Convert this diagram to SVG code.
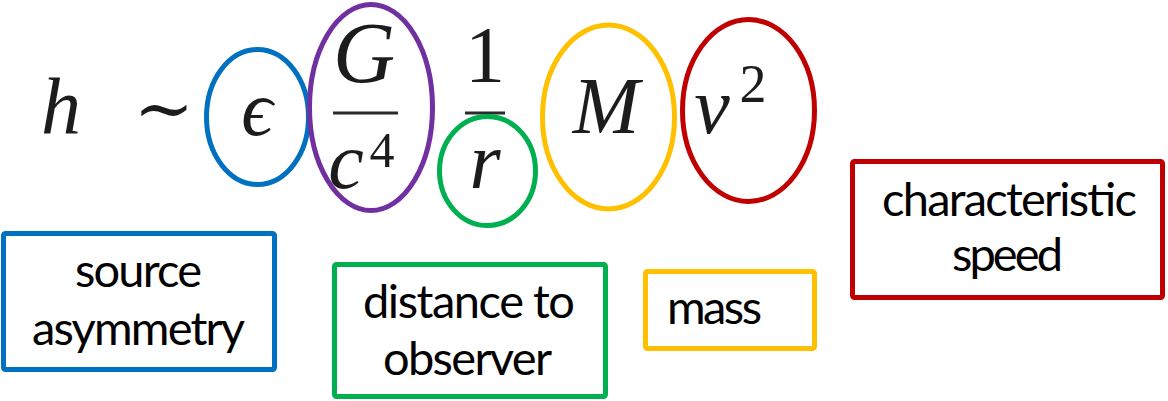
<svg xmlns="http://www.w3.org/2000/svg" width="1168" height="401" viewBox="0 0 1168 401">
<style>
.m{font-family:"Liberation Serif","DejaVu Serif",serif;font-style:italic;fill:#1c1c1c}
.n{font-family:"Liberation Serif","DejaVu Serif",serif;fill:#1c1c1c}
.ring{fill:none;stroke-width:5}
.box{fill:#fff;stroke-width:5}
.lbl{font-family:Lato,"Open Sans",sans-serif;font-size:47px;fill:#000;text-anchor:middle}
.bar{stroke:#2a2a2a;stroke-width:3}
</style>
<rect width="1168" height="401" fill="#fff"/>
<g id="equation">
<text class="m" x="41" y="133" font-size="80">h</text>
<text class="n" x="164" y="133" font-size="72" text-anchor="middle" font-family="DejaVu Serif">∼</text>
</g>
<g id="term-epsilon">
<ellipse class="ring" cx="257.5" cy="117" rx="51" ry="67.5" stroke="#0070C0"/>
<text class="m" x="257" y="135" font-size="78" text-anchor="middle">ϵ</text>
</g>
<g id="term-G-c4">
<ellipse class="ring" cx="371" cy="107.5" rx="61.5" ry="103" stroke="#7030A0"/>
<text class="m" x="364" y="82" font-size="86" text-anchor="middle">G</text>
<line class="bar" x1="333" y1="113" x2="398" y2="113"/>
<text class="m" x="346" y="188" font-size="80" text-anchor="middle">c</text>
<text class="n" x="382" y="167" font-size="50" text-anchor="middle">4</text>
</g>
<g id="term-one-over-r">
<text class="n" x="485" y="82" font-size="80" text-anchor="middle">1</text>
<line class="bar" x1="465" y1="113" x2="505" y2="113"/>
<ellipse class="ring" cx="487.5" cy="171" rx="48" ry="54.5" stroke="#00B050"/>
<text class="m" x="485" y="188" font-size="80" text-anchor="middle">r</text>
</g>
<g id="term-M">
<ellipse class="ring" cx="608.5" cy="117" rx="66" ry="92" stroke="#FFC000"/>
<text class="m" x="606" y="133" font-size="80" text-anchor="middle">M</text>
</g>
<g id="term-v2">
<ellipse class="ring" cx="748.5" cy="110.5" rx="66" ry="91" stroke="#C00000"/>
<text class="m" x="712" y="133" font-size="80" text-anchor="middle">v</text>
<text class="n" x="753" y="102" font-size="54" text-anchor="middle">2</text>
</g>
<g id="label-source-asymmetry">
<rect class="box" x="3.5" y="233.5" width="271" height="136" rx="2" stroke="#0070C0"/>
<text class="lbl" x="138.5" y="287" textLength="127">source</text>
<text class="lbl" x="138.5" y="345" textLength="213">asymmetry</text>
</g>
<g id="label-distance">
<rect class="box" x="334.5" y="264.5" width="271" height="132" rx="2" stroke="#00B050"/>
<text class="lbl" x="469" y="318" textLength="212">distance to</text>
<text class="lbl" x="467.5" y="375" textLength="169">observer</text>
</g>
<g id="label-mass">
<rect class="box" x="645.5" y="271.5" width="169" height="77" rx="2" stroke="#FFC000"/>
<text class="lbl" x="714.5" y="324" textLength="95">mass</text>
</g>
<g id="label-speed">
<rect class="box" x="852.5" y="161.5" width="310" height="136" rx="2" stroke="#C00000"/>
<text class="lbl" x="1009.5" y="216" textLength="255">characteristic</text>
<text class="lbl" x="1007.5" y="271" textLength="111">speed</text>
</g>
</svg>
